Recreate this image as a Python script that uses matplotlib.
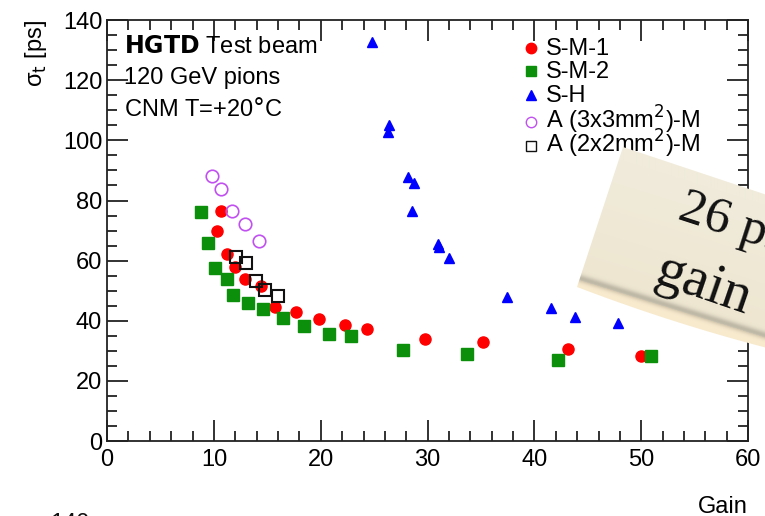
import numpy as np
import matplotlib
import matplotlib.pyplot as plt
from matplotlib.patches import Polygon
from matplotlib.ticker import MultipleLocator

matplotlib.rcParams['font.family'] = ['Liberation Sans', 'DejaVu Sans']

# data
sm1_gain = [10.3, 10.7, 11.2, 12.0, 12.9, 14.4, 15.7, 17.7, 19.8, 22.3, 24.3, 29.8, 35.2, 43.1, 50.0]
sm1_sigma = [69.9, 76.5, 62.2, 57.8, 53.8, 51.4, 44.5, 43.0, 40.5, 38.6, 37.3, 34.0, 32.9, 30.6, 28.2]

sm2_gain = [8.8, 9.4, 10.1, 11.2, 11.8, 13.2, 14.6, 16.5, 18.4, 20.8, 22.8, 27.7, 33.7, 42.2, 50.9]
sm2_sigma = [76.3, 65.8, 57.6, 53.8, 48.7, 45.9, 43.8, 41.0, 38.2, 35.6, 35.0, 30.4, 29.1, 26.9, 28.2]

sh_gain = [24.8, 26.4, 26.3, 28.2, 28.7, 28.5, 31.0, 31.1, 32.0, 37.4, 41.5, 43.8, 47.8]
sh_sigma = [132.6, 105.1, 102.9, 87.9, 85.7, 76.6, 65.7, 64.6, 60.8, 48.0, 44.1, 41.3, 39.4]

a33_gain = [9.8, 10.7, 11.7, 12.9, 14.25]
a33_sigma = [88.0, 83.8, 76.5, 72.3, 66.6]

a22_gain = [12.1, 13.0, 13.9, 14.8, 16.0]
a22_sigma = [61.3, 59.1, 53.2, 50.1, 48.4]

labels = ['S-M-1', 'S-M-2', 'S-H', r'A (3x3mm$^{2}$)-M', r'A (2x2mm$^{2}$)-M']
header = ['Test beam', '120 GeV pions', 'CNM T=+20$\\degree$C']

RED, GREEN, BLUE, VIOLET, BLACK = '#ff0000', '#0c900c', '#0000ff', '#c050f0', '#111111'

fig = plt.figure(figsize=(7.65, 5.16), dpi=100)
ax = fig.add_axes([0.140, 0.1453, 0.838, 0.8157])

ax.plot(sm1_gain, sm1_sigma, 'o', color=RED, ms=8, ls='none')
ax.plot(sm2_gain, sm2_sigma, 's', color=GREEN, ms=8, ls='none')
ax.plot(sh_gain, sh_sigma, '^', color=BLUE, ms=7.5, ls='none')
ax.plot(a33_gain, a33_sigma, 'o', mfc='none', mec=VIOLET, ms=9, mew=1.2, ls='none')
ax.plot(a22_gain, a22_sigma, 's', mfc='none', mec=BLACK, ms=9, mew=1.5, ls='none')

ax.set_xlim(0, 60)
ax.set_ylim(0, 140)
ax.xaxis.set_major_locator(MultipleLocator(10))
ax.xaxis.set_minor_locator(MultipleLocator(2))
ax.yaxis.set_major_locator(MultipleLocator(20))
ax.yaxis.set_minor_locator(MultipleLocator(5))
ax.tick_params(which='both', direction='in', top=True, right=True, labelsize=17, width=1.3, color='#222222')
ax.tick_params(which='major', length=15)
ax.tick_params(which='minor', length=7)
ax.tick_params(axis='x', pad=6)
for s in ax.spines.values():
    s.set_linewidth(1.3)
    s.set_color('#222222')

ax.set_ylabel('\u03c3$_{\\rm t}$ [ps]', fontsize=17, loc='top', labelpad=10)
ax.set_xlabel('Gain', fontsize=17, loc='right', labelpad=18)

# overlay in pixel coords: header, legend, cut-off label and the paper note
ov = fig.add_axes([0, 0, 1, 1], facecolor='none')
ov.set_xlim(0, 765)
ov.set_ylim(516, 0)
ov.axis('off')

ov.text(124, 47, r'$\bf{HGTD}$ ' + header[0], fontsize=17, va='center')
ov.text(124, 78, header[1], fontsize=17, va='center')
ov.text(124, 110, header[2], fontsize=17, va='center')

leg_y = [47, 70, 94, 121, 145]
leg_style = [
    dict(marker='o', color=RED, ms=7.5),
    dict(marker='s', color=GREEN, ms=7),
    dict(marker='^', color=BLUE, ms=7),
    dict(marker='o', mfc='none', mec=VIOLET, ms=7.5),
    dict(marker='s', mfc='none', mec=BLACK, ms=7.5),
]
for y, lab, st in zip(leg_y, labels, leg_style):
    ov.plot([531], [y + 1], ls='none', **st)
    ov.text(546, y + 8, lab, fontsize=17, va='baseline', ha='left')

ov.text(50, 513.5, '140', fontsize=17, va='top', ha='left', color='#111111')

t = np.linspace(0, 1, 40)
bx = 577 + (800 - 577) * t
by = 287 + 0.31 * (bx - 577) + 16 * t * (1 - t)
bottom = list(zip(bx[::-1], by[::-1]))
note = Polygon([(623, 147), (800, 206)] + bottom, closed=True, facecolor='none', edgecolor='none')
ov.add_patch(note)

xx, yy = np.meshgrid(np.arange(560, 800), np.arange(140, 380))
v = yy - 0.31 * (xx - 577) - 287
top_c = np.array([240, 235, 219]) / 255.0
mid_c = np.array([238, 230, 208]) / 255.0
low_c = np.array([249, 235, 206]) / 255.0
w = np.clip((v + 140) / 130, 0, 1)[..., None]
img = top_c * (1 - w) + mid_c * w
img = np.where((v > -8)[..., None], low_c, img)
band = np.exp(-((v + 10) / 4.0) ** 2)[..., None]
img = img * (1 - 0.2 * band)
im = ov.imshow(img, extent=(560, 800, 380, 140), origin='upper', zorder=3, interpolation='bilinear')
im.set_clip_path(note)
ov.set_xlim(0, 765)
ov.set_ylim(516, 0)

serif = ['Liberation Serif', 'DejaVu Serif']
ov.text(676, 219, '26 ps', family=serif, fontsize=37, rotation=-18,
        rotation_mode='anchor', ha='left', va='baseline', color='#111111', zorder=4)
ov.text(652, 283, 'gain', family=serif, fontsize=41, rotation=-19,
        rotation_mode='anchor', ha='left', va='baseline', color='#111111', zorder=4)

fig.savefig('out.png', dpi=100)
